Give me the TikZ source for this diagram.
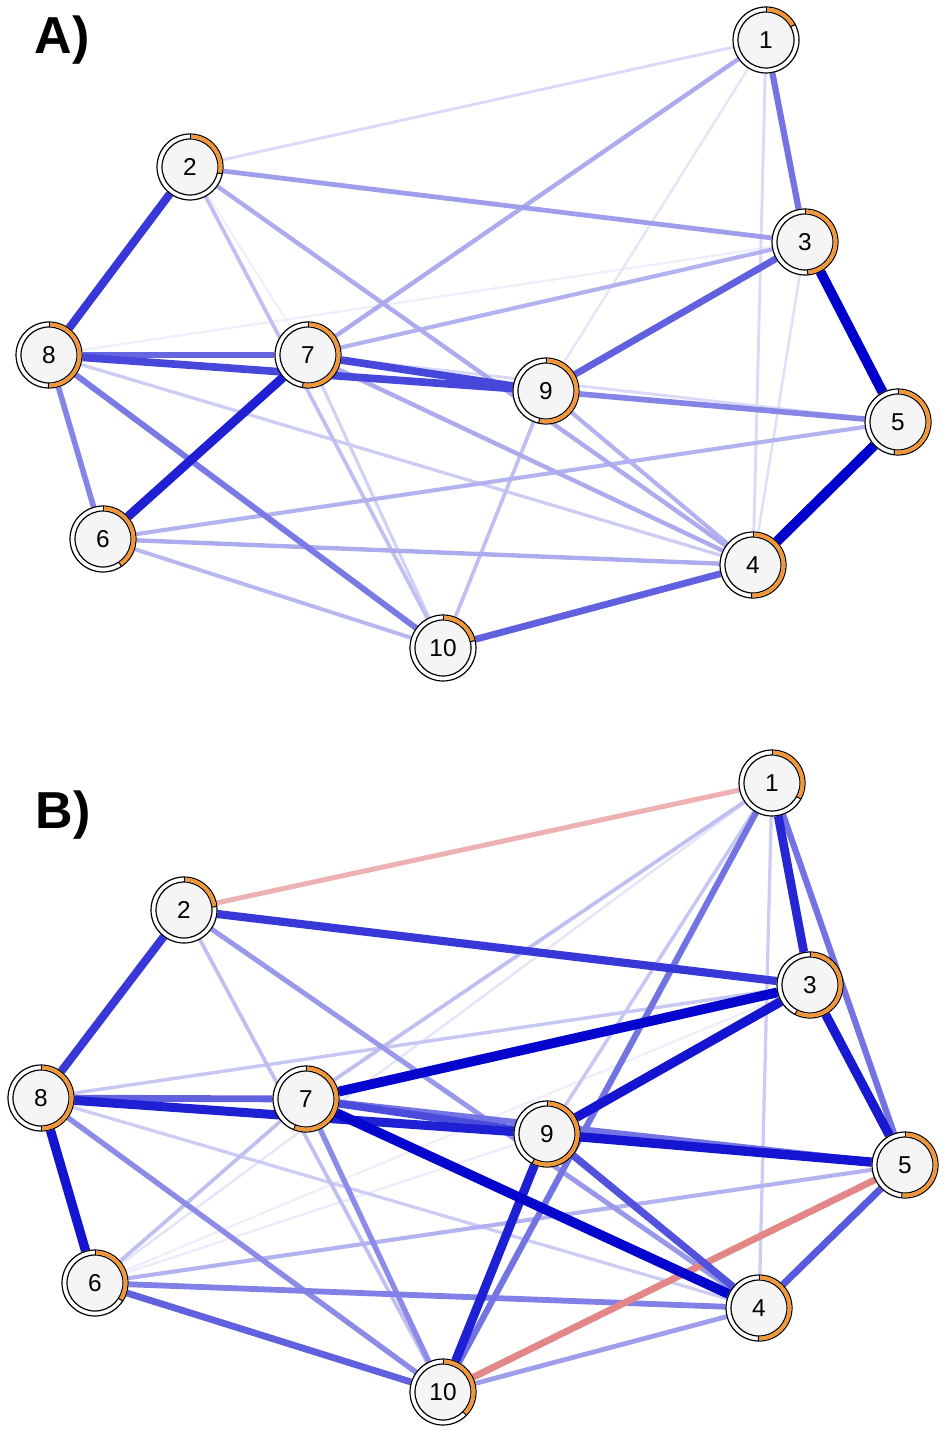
\documentclass[tikz,border=0pt]{standalone}
\usepackage{fontspec}
\setmainfont{Liberation Sans}
\definecolor{eblue}{RGB}{0,0,205}
\definecolor{ered}{RGB}{210,60,60}
\definecolor{ringorange}{RGB}{242,150,58}
\definecolor{nodefill}{RGB}{245,245,245}
\pgfdeclarelayer{edges}
\pgfsetlayers{edges,main}
\tikzset{
    netnode/.style={circle, draw=black, line width=0.6pt, fill=white, minimum size=33pt, inner sep=0pt,
      font=\fontsize{12.2}{14}\selectfont,
      path picture={\draw[line width=0.6pt, fill=nodefill] (path picture bounding box.center) circle[radius=14pt];}},
    panel/.style={font=\fontsize{26}{30}\bfseries\selectfont},
    wt/.style={draw=eblue!#1!white, line width={0.8pt+0.042pt*#1}},
    wtr/.style={draw=ered!#1!white, line width={0.8pt+0.042pt*#1}},
    ringarc/.style={draw=ringorange, line width=1.9pt},
    ringtick/.style={draw=black, line width=0.5pt}
}
% orange share ring round a node: #1 node, #2 degrees
\newcommand\piering[2]{%
  \draw[ringarc] (#1.center) ++(90:15.25pt) arc[start angle=90, delta angle=-#2, radius=15.25pt];
  \draw[ringtick] (#1.center) ++(90:14pt) -- ++(90:2.5pt);
  \draw[ringtick] (#1.center) ++({90-#2}:14pt) -- ++({90-#2}:2.5pt);
}

\begin{document}
\begin{tikzpicture}[x=0.5pt, y=-0.5pt]

    \useasboundingbox (0,0) rectangle (945,1433);

    % Panel A
    \node at (62, 40) [panel] (labA) {A)};
    \node at (766, 40) [netnode] (a1) {1};
    \node at (190, 167) [netnode] (a2) {2};
    \node at (805, 242) [netnode] (a3) {3};
    \node at (753, 565) [netnode] (a4) {4};
    \node at (898, 422) [netnode] (a5) {5};
    \node at (103, 539) [netnode] (a6) {6};
    \node at (308, 355) [netnode] (a7) {7};
    \node at (49, 355) [netnode] (a8) {8};
    \node at (546, 391) [netnode] (a9) {9};
    \node at (443, 648) [netnode] (a10) {10};
    \piering{a1}{62} \piering{a2}{102} \piering{a3}{175} \piering{a4}{183} \piering{a5}{187}
    \piering{a6}{146} \piering{a7}{190} \piering{a8}{181} \piering{a9}{193} \piering{a10}{77}

    \begin{pgfonlayer}{edges}
    \draw[wt=6] (a2) -- (a7);
    \draw[wt=7] (a3) -- (a8);
    \draw[wt=10] (a1) -- (a9);
    \draw[wt=12] (a3) -- (a4);
    \draw[wt=15] (a1) -- (a2);
    \draw[wt=15] (a1) -- (a4);
    \draw[wt=15] (a7) -- (a5);
    \draw[wt=18] (a7) -- (a10);
    \draw[wt=20] (a8) -- (a4);
    \draw[wt=25] (a2) -- (a10);
    \draw[wt=25] (a9) -- (a10);
    \draw[wt=28] (a6) -- (a10);
    \draw[wt=30] (a3) -- (a7);
    \draw[wt=30] (a6) -- (a5);
    \draw[wt=30] (a9) -- (a4);
    \draw[wt=33] (a1) -- (a7);
    \draw[wt=33] (a2) -- (a4);
    \draw[wt=33] (a7) -- (a4);
    \draw[wt=33] (a6) -- (a4);
    \draw[wt=38] (a2) -- (a3);
    \draw[wt=48] (a8) -- (a6);
    \draw[wt=48] (a9) -- (a5);
    \draw[wt=52] (a8) -- (a10);
    \draw[wt=55] (a1) -- (a3);
    \draw[wt=60] (a8) -- (a7);
    \draw[wt=62] (a3) -- (a9);
    \draw[wt=62] (a10) -- (a4);
    \draw[wt=72] (a8) -- (a9);
    \draw[wt=72] (a7) -- (a9);
    \draw[wt=78] (a2) -- (a8);
    \draw[wt=88] (a7) -- (a6);
    \draw[wt=100] (a3) -- (a5);
    \draw[wt=100] (a5) -- (a4);
    \end{pgfonlayer}

    % Panel B
    \node at (63, 815) [panel] (labB) {B)};
    \node at (772, 783) [netnode] (b1) {1};
    \node at (184, 910) [netnode] (b2) {2};
    \node at (810, 985) [netnode] (b3) {3};
    \node at (759, 1308) [netnode] (b4) {4};
    \node at (905, 1165) [netnode] (b5) {5};
    \node at (95, 1283) [netnode] (b6) {6};
    \node at (306, 1099) [netnode] (b7) {7};
    \node at (41, 1098) [netnode] (b8) {8};
    \node at (547, 1134) [netnode] (b9) {9};
    \node at (443, 1392) [netnode] (b10) {10};
    \piering{b1}{119} \piering{b2}{84} \piering{b3}{207} \piering{b4}{181} \piering{b5}{186}
    \piering{b6}{123} \piering{b7}{202} \piering{b8}{180} \piering{b9}{207} \piering{b10}{135}

    \begin{pgfonlayer}{edges}
    \draw[wt=7] (b3) -- (b6);
    \draw[wt=8] (b9) -- (b6);
    \draw[wt=10] (b1) -- (b6);
    \draw[wt=20] (b1) -- (b4);
    \draw[wt=20] (b8) -- (b4);
    \draw[wt=22] (b1) -- (b9);
    \draw[wt=22] (b3) -- (b8);
    \draw[wt=25] (b1) -- (b7);
    \draw[wt=25] (b2) -- (b10);
    \draw[wt=25] (b7) -- (b6);
    \draw[wt=30] (b6) -- (b5);
    \draw[wt=38] (b10) -- (b4);
    \draw[wt=40] (b2) -- (b4);
    \draw[wtr=40] (b1) -- (b2);
    \draw[wt=45] (b7) -- (b10);
    \draw[wt=45] (b8) -- (b10);
    \draw[wt=50] (b6) -- (b4);
    \draw[wt=55] (b1) -- (b5);
    \draw[wt=55] (b1) -- (b10);
    \draw[wt=55] (b7) -- (b5);
    \draw[wtr=62] (b5) -- (b10);
    \draw[wt=62] (b8) -- (b7);
    \draw[wt=62] (b6) -- (b10);
    \draw[wt=65] (b5) -- (b4);
    \draw[wt=68] (b9) -- (b4);
    \draw[wt=70] (b7) -- (b9);
    \draw[wt=78] (b2) -- (b3);
    \draw[wt=78] (b2) -- (b8);
    \draw[wt=85] (b1) -- (b3);
    \draw[wt=88] (b8) -- (b9);
    \draw[wt=88] (b9) -- (b10);
    \draw[wt=90] (b3) -- (b5);
    \draw[wt=92] (b8) -- (b6);
    \draw[wt=92] (b3) -- (b9);
    \draw[wt=92] (b9) -- (b5);
    \draw[wt=98] (b3) -- (b7);
    \draw[wt=98] (b7) -- (b4);
    \end{pgfonlayer}
\end{tikzpicture}
\end{document}
